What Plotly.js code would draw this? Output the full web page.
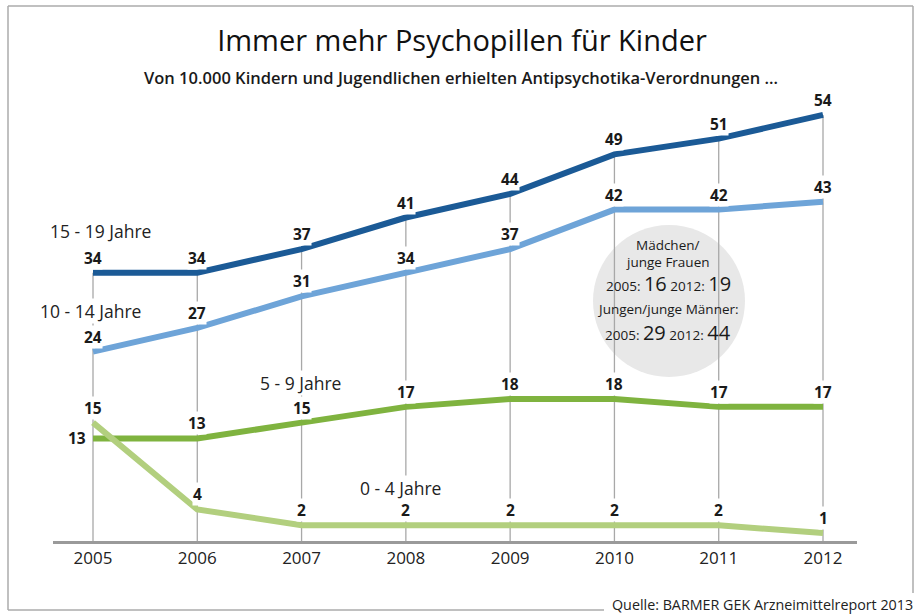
<!DOCTYPE html>
<html><head><meta charset="utf-8">
<script src="https://cdn.plot.ly/plotly-3.0.1.min.js"></script>
<style>html,body{margin:0;padding:0;background:#fff}#c{width:917px;height:615px}</style>
</head><body><div id="c"></div>
<script>
const years = [2005, 2006, 2007, 2008, 2009, 2010, 2011, 2012];
const age15_19 = [34, 34, 37, 41, 44, 49, 51, 54];
const age10_14 = [24, 27, 31, 34, 37, 42, 42, 43];
const age5_9 = [13, 13, 15, 17, 18, 18, 17, 17];
const age0_4 = [15, 4, 2, 2, 2, 2, 2, 1];
const seriesNames = ['15 - 19 Jahre', '10 - 14 Jahre', '5 - 9 Jahre', '0 - 4 Jahre'];
const colors = ['#1b5a96', '#6ea4d8', '#7fb33f', '#b2cf7e'];

const W = 917, H = 615;
const M = {l: 53, r: 60, t: 100, b: 74};
const pw = W - M.l - M.r, ph = H - M.t - M.b;
const px = x => (x - M.l) / pw;
const py = y => (H - M.b - y) / ph;

const series = [age15_19, age10_14, age5_9, age0_4];
const traces = series.map((s, i) => ({
  x: years, y: s, type: 'scatter', mode: 'lines', name: seriesNames[i],
  line: {color: colors[i], width: 6}, hoverinfo: 'skip'
}));

const shapes = [];
years.forEach((yr, j) => {
  const top = Math.max(...series.map(s => s[j]));
  shapes.push({type: 'line', xref: 'x', yref: 'y', x0: yr, x1: yr, y0: 0, y1: top,
    line: {color: '#a8a8a8', width: 1.3}, layer: 'below'});
});
shapes.push({type: 'circle', xref: 'paper', yref: 'paper',
  x0: px(593), x1: px(745), y0: py(377), y1: py(225),
  fillcolor: '#e8e8e8', line: {width: 0}, layer: 'below'});
const fr = '#ababab';
shapes.push({type: 'line', xref: 'paper', yref: 'paper', x0: px(8), x1: px(913), y0: py(6), y1: py(6), line: {color: fr, width: 1.5}});
shapes.push({type: 'line', xref: 'paper', yref: 'paper', x0: px(8), x1: px(8), y0: py(6), y1: py(610), line: {color: fr, width: 1.5}});
shapes.push({type: 'line', xref: 'paper', yref: 'paper', x0: px(913), x1: px(913), y0: py(6), y1: py(593), line: {color: fr, width: 1.5}});
shapes.push({type: 'line', xref: 'paper', yref: 'paper', x0: px(8), x1: px(604), y0: py(610), y1: py(610), line: {color: fr, width: 1.5}});

const ann = [];
const lblFont = {family: 'Open Sans, sans-serif', size: 15.5, color: '#1a1a1a', weight: 700};
series.forEach((s, i) => {
  s.forEach((v, j) => {
    const a = {x: years[j], y: v, xref: 'x', yref: 'y', text: '<b>' + v + '</b>', showarrow: false,
      font: lblFont, bgcolor: '#ffffff', yanchor: 'middle', yshift: 15, borderpad: 0};
    if (i === 2 && j === 0) { a.xanchor = 'right'; a.xshift = -6; a.yshift = 0; }
    ann.push(a);
  });
});
const serFont = {family: 'Open Sans, sans-serif', size: 17.5, color: '#222'};
const serPos = [[49, 231], [39, 311], [259, 383], [359, 488]];
seriesNames.forEach((n, i) => {
  ann.push({xref: 'paper', yref: 'paper', x: px(serPos[i][0]), y: py(serPos[i][1]), text: n,
    xanchor: 'left', yanchor: 'middle', showarrow: false, font: serFont, bgcolor: '#ffffff', borderpad: 0});
});
ann.push({xref: 'paper', yref: 'paper', x: px(461), y: py(77), text: 'Von 10.000 Kindern und Jugendlichen erhielten Antipsychotika-Verordnungen …',
  showarrow: false, xanchor: 'center', yanchor: 'middle',
  font: {family: 'Open Sans, sans-serif', size: 16.5, color: '#1a1a1a', weight: 600}});
const cx = px(668);
const cf = {family: 'Open Sans, sans-serif', size: 13.5, color: '#1a1a1a'};
const big = s => '<span style="font-size:20px">' + s + '</span>';
[['Mädchen/', 245], ['junge Frauen', 262], ['2005: ' + big('16') + ' 2012: ' + big('19'), 283],
 ['Jungen/junge Männer:', 309], ['2005: ' + big('29') + ' 2012: ' + big('44'), 332]].forEach(t => {
  ann.push({xref: 'paper', yref: 'paper', x: cx, y: py(t[1]), text: t[0], showarrow: false,
    xanchor: 'center', yanchor: 'middle', font: cf});
});
ann.push({xref: 'paper', yref: 'paper', x: px(915), y: py(604), text: 'Quelle: BARMER GEK Arzneimittelreport 2013',
  showarrow: false, xanchor: 'right', yanchor: 'middle', font: {family: 'Open Sans, sans-serif', size: 14.3, color: '#222'}});

const layout = {
  width: W, height: H, margin: M, showlegend: false,
  paper_bgcolor: '#ffffff', plot_bgcolor: '#ffffff',
  title: {text: 'Immer mehr Psychopillen für Kinder', x: 462 / W, xanchor: 'center', y: 1 - 41 / H, yanchor: 'middle',
    font: {family: 'Open Sans, sans-serif', size: 29, color: '#111'}},
  xaxis: {range: [2005 - 40 / 104.3, 2012 + 34 / 104.3], showgrid: false, zeroline: false,
    showline: true, linecolor: '#9a9a9a', linewidth: 3, ticks: '', tickvals: years, ticktext: years.map(String),
    tickfont: {family: 'Open Sans, sans-serif', size: 17, color: '#222'}, fixedrange: true},
  yaxis: {range: [0, ph / 7.89], visible: false, showgrid: false, zeroline: false, fixedrange: true},
  shapes: shapes, annotations: ann
};
Plotly.newPlot('c', traces, layout, {displayModeBar: false, staticPlot: true});
</script></body></html>
